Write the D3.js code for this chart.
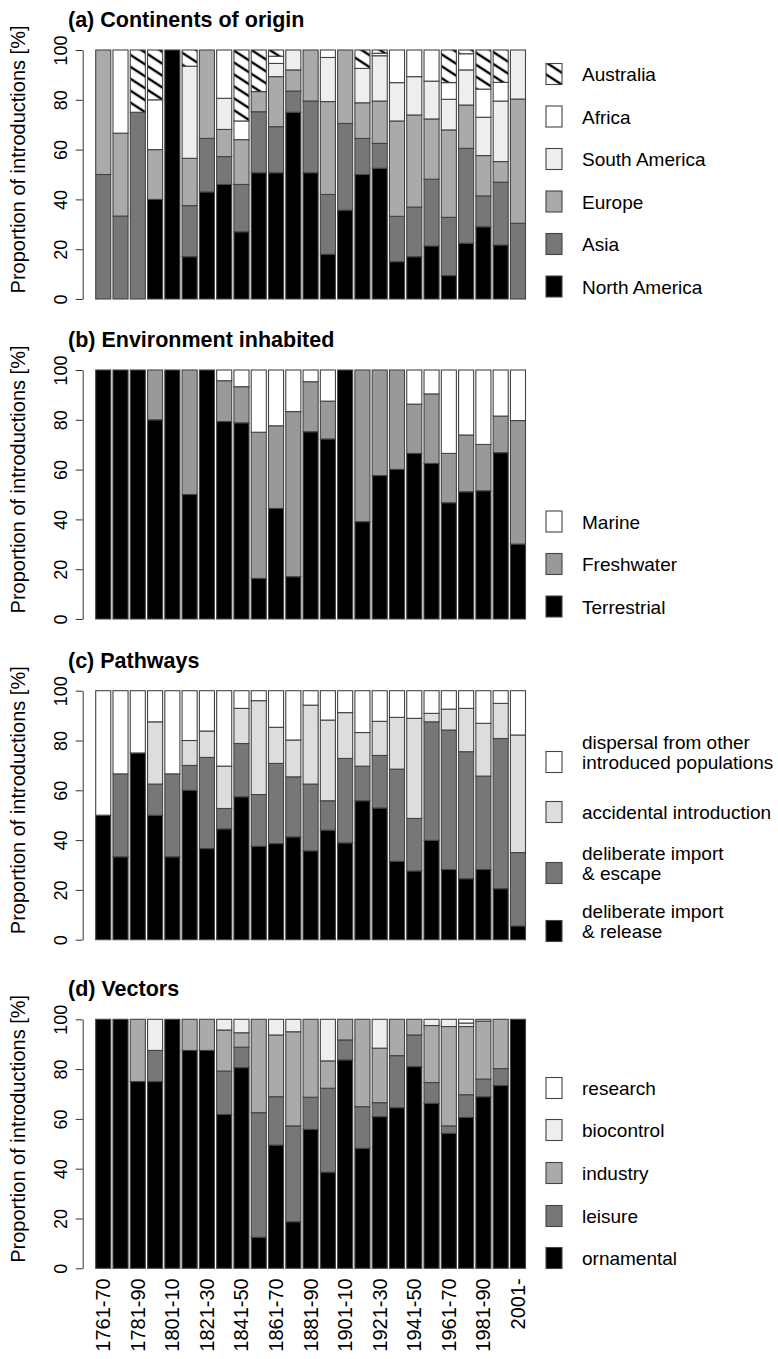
<!DOCTYPE html>
<html>
<head>
<meta charset="utf-8">
<script src="https://cdn.jsdelivr.net/npm/d3@7"></script>
<style>
  body { margin: 0; background: #fff; }
  text { font-family: "Liberation Sans", Arial, sans-serif; fill: #000; }
</style>
</head>
<body>
<div id="chart"></div>
<script>
// decades on the x axis
const decades = ['1761-70','1771-80','1781-90','1791-1800','1801-10','1811-20','1821-30','1831-40',
  '1841-50','1851-60','1861-70','1871-80','1881-90','1891-1900','1901-10','1911-20','1921-30',
  '1931-40','1941-50','1951-60','1961-70','1971-80','1981-90','1991-2000','2001-'];
const yTicks = [0, 20, 40, 60, 80, 100];

// (a) continents of origin, % per decade
const originNorthAmerica = [0,0,0,40,100,17,43,46,27,50.7,50.7,75,50.7,18,35.7,50,52.5,15,17,21.3,9.4,22.4,29,21.7,0];
const originAsia         = [50,33.3,75,0,0,20.5,21.5,11.2,19,24.5,18.5,8.5,28.8,24,34.8,14.5,10,18.2,19.9,26.8,23.4,38.1,12.4,25.2,30.4];
const originEurope       = [50,33.3,0,20,0,19,35.5,10.9,18,8.1,20.1,8.5,20.5,37.3,29.5,14.3,17,38.3,37,24.2,35.1,17.4,16.2,8.3,49.9];
const originSouthAmerica = [0,0,0,0,0,37,0,12.5,0,0,5.3,8,0,17.7,0,13.8,18.2,15.4,15.4,15.2,12.3,14.1,15.4,24.3,19.7];
const originAfrica       = [0,33.4,0,20,0,0,0,19.4,7.5,0,2.9,0,0,3,0,0,1,13.1,10.7,12.5,6.7,6.5,11.3,7.5,0];
const originAustralia    = [0,0,25,20,0,6.5,0,0,28.5,16.7,2.5,0,0,0,0,7.4,1.3,0,0,0,13.1,1.5,15.7,13,0];

// (b) environment inhabited
const envTerrestrial = [100,100,100,80,100,50,100,79.3,78.8,16.3,44.4,17,75.2,72.3,100,39.1,57.6,60.1,66.5,62.5,46.7,51.1,51.5,66.8,30.1];
const envFreshwater  = [0,0,0,20,0,50,0,16.4,14.5,58.7,33.2,66.3,20.1,15.2,0,60.9,42.4,39.9,19.8,27.9,19.8,22.8,18.6,14.7,49.6];
const envMarine      = [0,0,0,0,0,0,0,4.3,6.7,25,22.4,16.7,4.7,12.5,0,0,0,0,13.7,9.6,33.5,26.1,29.9,18.5,20.3];

// (c) pathways
const pathRelease    = [50,33.3,75,50,33.3,60,36.6,44.5,57.4,37.5,38.6,41.3,35.7,44,38.9,55.8,52.9,31.5,27.6,39.9,28.2,24.5,28.2,20.5,5.5];
const pathEscape     = [0,33.3,0,12.5,33.3,10,36.6,8.2,21.4,20.8,32.2,24.1,26.8,11.8,33.9,13.9,21.1,37,21.1,47.6,56,51,37.5,60.3,29.5];
const pathAccidental = [0,0,0,25,0,10,10.6,17,14.1,37.7,14.5,14.8,31.7,32.4,18.4,13.5,13.7,20.8,40.2,3.4,8.4,17.4,21.2,14.1,47.2];
const pathDispersal  = [50,33.4,25,12.5,33.4,20,16.2,30.3,7.1,4,14.7,19.8,5.8,11.8,8.8,16.8,12.3,10.7,11.1,9.1,7.4,7.1,13.1,5.1,17.8];

// (d) vectors
const vecOrnamental = [100,100,75,75,100,87.5,87.5,61.8,80.6,12.5,49.5,18.7,55.8,38.6,83.7,48.2,60.9,64.5,81,66.3,54.2,60.6,68.9,73.4,100];
const vecLeisure    = [0,0,0,12.5,0,0,0,17.4,8.2,50,19.4,38.5,12.9,33.7,8,16.7,5.6,20.9,12.7,8.3,3,9.1,7.1,6.8,0];
const vecIndustry   = [0,0,25,0,0,12.5,12.5,16.5,5.8,37.5,24.8,37.8,31.3,11,8.3,35.1,21.9,14.6,6.3,22.9,39.9,27.4,23.3,19.8,0];
const vecBiocontrol = [0,0,0,12.5,0,0,0,4.3,5.4,0,6.3,5,0,16.7,0,0,11.6,0,0,2.5,2.9,1.4,0.7,0,0];
const vecResearch   = [0,0,0,0,0,0,0,0,0,0,0,0,0,0,0,0,0,0,0,0,0,1.5,0,0,0];

const panels = [
  { title: '(a) Continents of origin', top: 50,
    series: [
      { key: 'North America', values: originNorthAmerica, fill: '#000' },
      { key: 'Asia', values: originAsia, fill: '#777' },
      { key: 'Europe', values: originEurope, fill: '#aaa' },
      { key: 'South America', values: originSouthAmerica, fill: '#eee' },
      { key: 'Africa', values: originAfrica, fill: '#fff' },
      { key: 'Australia', values: originAustralia, fill: 'url(#hatch)' }
    ],
    legendY: [286.5, 244, 201.5, 159, 116.5, 74] },
  { title: '(b) Environment inhabited', top: 370,
    series: [
      { key: 'Terrestrial', values: envTerrestrial, fill: '#000' },
      { key: 'Freshwater', values: envFreshwater, fill: '#999' },
      { key: 'Marine', values: envMarine, fill: '#fff' }
    ],
    legendY: [606.5, 564, 521.5] },
  { title: '(c) Pathways', top: 690.7,
    series: [
      { key: 'deliberate import\n& release', values: pathRelease, fill: '#000' },
      { key: 'deliberate import\n& escape', values: pathEscape, fill: '#777' },
      { key: 'accidental introduction', values: pathAccidental, fill: '#ddd' },
      { key: 'dispersal from other\nintroduced populations', values: pathDispersal, fill: '#fff' }
    ],
    legendY: [931, 873, 812, 762] },
  { title: '(d) Vectors', top: 1019.3,
    series: [
      { key: 'ornamental', values: vecOrnamental, fill: '#000' },
      { key: 'leisure', values: vecLeisure, fill: '#777' },
      { key: 'industry', values: vecIndustry, fill: '#aaa' },
      { key: 'biocontrol', values: vecBiocontrol, fill: '#eee' },
      { key: 'research', values: vecResearch, fill: '#fff' }
    ],
    legendY: [1258, 1216, 1173, 1130, 1088] }
];

const config = {
  width: 778, height: 1359,
  plotHeight: 249,
  axisX: 82.7,
  legendBoxX: 546, legendTextX: 582,
  lineHeight: 20.5
};

const svg = d3.select('#chart').append('svg')
  .attr('width', config.width)
  .attr('height', config.height);

svg.append('rect')
  .attr('width', config.width)
  .attr('height', config.height)
  .attr('fill', '#fff');

// hatching for Australia
const pat = svg.append('defs').append('pattern')
  .attr('id', 'hatch')
  .attr('patternUnits', 'userSpaceOnUse')
  .attr('width', 10).attr('height', 10)
  .attr('patternTransform', 'rotate(33)');
pat.append('rect').attr('width', 10).attr('height', 10).attr('fill', '#fff');
pat.append('line').attr('x1', 0).attr('x2', 10).attr('y1', 5).attr('y2', 5)
  .attr('stroke', '#000').attr('stroke-width', 2.4);

const x = d3.scaleBand()
  .domain(decades)
  .range([94.6, 526.6])
  .paddingInner(0.128)
  .paddingOuter(0.064);

panels.forEach(p => {
  const y = d3.scaleLinear().domain([0, 100])
    .range([p.top + config.plotHeight, p.top]);

  const rows = decades.map((d, i) => {
    const r = { decade: d };
    p.series.forEach(s => { r[s.key] = s.values[i]; });
    return r;
  });
  const stacked = d3.stack().keys(p.series.map(s => s.key))(rows);

  const g = svg.append('g');

  g.selectAll('g.layer')
    .data(stacked)
    .join('g')
      .attr('class', 'layer')
      .attr('fill', (d, i) => p.series[i].fill)
    .selectAll('rect')
    .data(d => d.filter(v => v[1] - v[0] > 0))
    .join('rect')
      .attr('x', d => x(d.data.decade))
      .attr('width', x.bandwidth())
      .attr('y', d => y(d[1]))
      .attr('height', d => y(d[0]) - y(d[1]))
      .attr('stroke', '#444')
      .attr('stroke-width', 1.1);

  // y axis
  const axis = g.append('g')
    .attr('transform', `translate(${config.axisX},0)`)
    .call(d3.axisLeft(y).tickValues(yTicks).tickSize(7).tickSizeOuter(0));
  axis.select('.domain').attr('stroke', '#333').attr('stroke-width', 1);
  axis.selectAll('.tick line').attr('stroke', '#333');
  axis.selectAll('.tick text')
    .attr('transform', 'rotate(-90)')
    .attr('x', 0).attr('y', -15.7).attr('dy', 0)
    .attr('text-anchor', 'middle')
    .style('font-size', '18px')
    .style('font-family', '"Liberation Sans", Arial, sans-serif')
    .attr('fill', '#000');

  g.append('text')
    .attr('transform', `translate(25,${p.top + config.plotHeight / 2 - 15}) rotate(-90)`)
    .attr('text-anchor', 'middle')
    .style('font-size', '20px')
    .text('Proportion of introductions [%]');

  g.append('text')
    .attr('x', 68).attr('y', p.top - 23)
    .style('font-size', '21.5px')
    .style('font-weight', 'bold')
    .text(p.title);

  // legend
  const leg = g.selectAll('g.leg')
    .data(p.series)
    .join('g').attr('class', 'leg');
  leg.append('rect')
    .attr('x', config.legendBoxX)
    .attr('y', (d, i) => p.legendY[i] - 10.5)
    .attr('width', 16).attr('height', 21)
    .attr('fill', d => d.fill)
    .attr('stroke', '#444').attr('stroke-width', 1.1);
  leg.each(function(d, i) {
    const lines = d.key.split('\n');
    const t = d3.select(this).append('text')
      .attr('x', config.legendTextX)
      .style('font-size', '19px');
    lines.forEach((l, j) => {
      t.append('tspan')
        .attr('x', config.legendTextX)
        .attr('y', p.legendY[i] + 7 - (lines.length - 1 - j) * config.lineHeight)
        .text(l);
    });
  });
});

// x labels under the last panel, every second decade
const bottom = panels[3].top + config.plotHeight;
svg.append('g').selectAll('text')
  .data(decades.filter((d, i) => i % 2 === 0))
  .join('text')
    .attr('transform', d => `translate(${x(d) + x.bandwidth() / 2 + 7},${bottom + 10}) rotate(-90)`)
    .attr('text-anchor', 'end')
    .style('font-size', '20px')
    .text(d => d);
</script>
</body>
</html>
